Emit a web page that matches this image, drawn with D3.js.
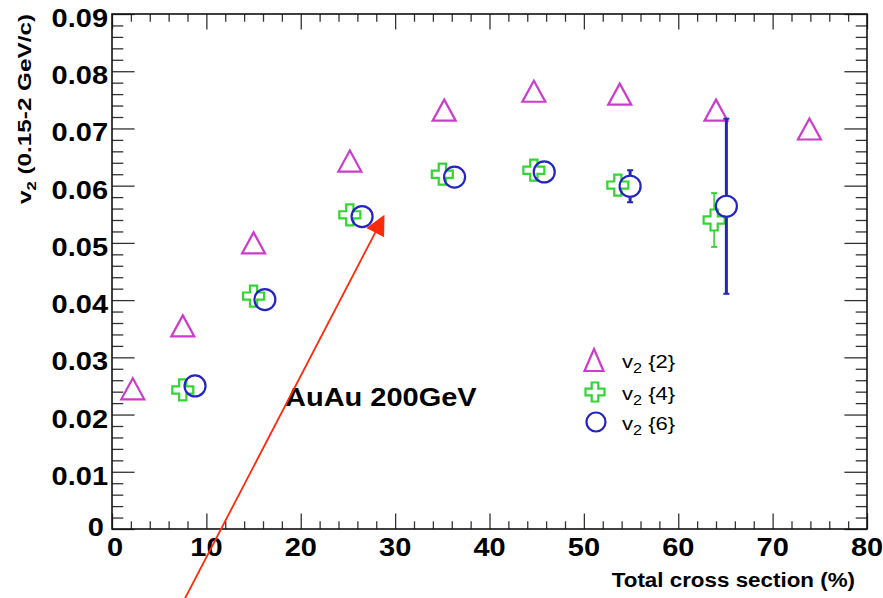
<!DOCTYPE html>
<html><head><meta charset="utf-8">
<script src="https://cdn.jsdelivr.net/npm/d3@7"></script>
<style>body{margin:0;background:#fff}svg{display:block}</style>
</head><body><svg id="c" width="883" height="598"></svg>
<script>
// ---------- data ----------
const xTicks = [0,10,20,30,40,50,60,70,80];
const xTickLabels = ["0","10","20","30","40","50","60","70","80"];
const yTicks = [0,0.01,0.02,0.03,0.04,0.05,0.06,0.07,0.08,0.09];
const yTickLabels = ["0","0.01","0.02","0.03","0.04","0.05","0.06","0.07","0.08","0.09"];

const cent2 = [2.2, 7.5, 15.0, 25.2, 35.2, 44.7, 53.8, 64.0, 73.9];
const v2_2  = [0.0245, 0.0355, 0.0500, 0.0643, 0.0732, 0.0765, 0.0760, 0.0732, 0.0699];

const cent4 = [7.5, 15.0, 25.2, 35.0, 44.7, 53.6, 63.8];
const v2_4  = [0.0243, 0.0407, 0.0549, 0.0620, 0.0627, 0.0601, 0.0540];
const err4  = [0.0003, 0.0004, 0.0004, 0.0005, 0.0005, 0.0006, 0.0047];

const cent6 = [8.8, 16.2, 26.5, 36.3, 45.8, 54.9, 65.1];
const v2_6  = [0.0250, 0.0401, 0.0546, 0.0615, 0.0624, 0.0599, 0.0564];
const err6  = [0.0004, 0.0005, 0.0005, 0.0006, 0.0007, 0.0028, 0.0153];

const legendLabels = ["{2}", "{4}", "{6}"];
const xTitle = "Total cross section (%)";
const yTitleMain = "v";
const yTitleSub = "2";
const yTitleRest = " (0.15-2 GeV/c)";
const annotation = "AuAu 200GeV";
const annotationPos = [18.33, 0.0215];
const arrowFrom = [7.3, -0.0135];
const arrowTo = [28.87, 0.0549];

// ---------- layout ----------
const L = 112, R = 867, T = 14, B = 529;
const SX = 1.16; // horizontal font stretch
const col2 = "#cc3ccc", col4 = "#33d433", col6 = "#2424c0", colArrow = "#ff2a08";

const svg = d3.select("#c");
const x = d3.scaleLinear().domain([0,80]).range([L,R]);
const y = d3.scaleLinear().domain([0,0.09]).range([B,T]);

const font = "'Liberation Sans', Arial, Helvetica, sans-serif";
function text(g, px, py, str, size, weight, anchor) {
  return g.append("text")
    .attr("transform", `translate(${px},${py}) scale(${SX},1)`)
    .attr("font-family", font).attr("font-size", size)
    .attr("font-weight", weight).attr("text-anchor", anchor)
    .attr("fill", "#000").text(str);
}

// ---------- ticks (ROOT style, inside on all four sides) ----------
const xMinor = d3.range(0, 81, 2).filter(v => v % 10 !== 0);
const yMinor = d3.range(0, 91, 2).filter(v => v % 10 !== 0).map(v => v/1000);
const tickStroke = g => g.call(s => s.select(".domain").remove())
   .selectAll("line").attr("stroke", "#333").attr("stroke-width", 1.3);

const xMaj = 15.5, xMin = 7.7, yMaj = 22.6, yMin = 11.3;
svg.append("g").attr("transform", `translate(0,${B})`)
  .call(d3.axisBottom(x).tickValues(xTicks).tickSize(-xMaj).tickFormat("")).call(tickStroke);
svg.append("g").attr("transform", `translate(0,${B})`)
  .call(d3.axisBottom(x).tickValues(xMinor).tickSize(-xMin).tickFormat("")).call(tickStroke);
svg.append("g").attr("transform", `translate(0,${T})`)
  .call(d3.axisTop(x).tickValues(xTicks).tickSize(-xMaj).tickFormat("")).call(tickStroke);
svg.append("g").attr("transform", `translate(0,${T})`)
  .call(d3.axisTop(x).tickValues(xMinor).tickSize(-xMin).tickFormat("")).call(tickStroke);
svg.append("g").attr("transform", `translate(${L},0)`)
  .call(d3.axisLeft(y).tickValues(yTicks).tickSize(-yMaj).tickFormat("")).call(tickStroke);
svg.append("g").attr("transform", `translate(${L},0)`)
  .call(d3.axisLeft(y).tickValues(yMinor).tickSize(-yMin).tickFormat("")).call(tickStroke);
svg.append("g").attr("transform", `translate(${R},0)`)
  .call(d3.axisRight(y).tickValues(yTicks).tickSize(-yMaj).tickFormat("")).call(tickStroke);
svg.append("g").attr("transform", `translate(${R},0)`)
  .call(d3.axisRight(y).tickValues(yMinor).tickSize(-yMin).tickFormat("")).call(tickStroke);

// frame
svg.append("rect").attr("x", L).attr("y", T).attr("width", R-L).attr("height", B-T)
  .attr("fill", "none").attr("stroke", "#111").attr("stroke-width", 1.6);

// tick labels
const lab = svg.append("g");
xTicks.forEach((v,i) => text(lab, x(v) + (v===0 ? 3 : 0), B + 27, xTickLabels[i], 25, "bold", "middle"));
yTicks.forEach((v,i) => text(lab, L - (v===0 ? 8 : 4), y(v) + (v===0 ? 7 : 13), yTickLabels[i], 25, "bold", "end"));

// axis titles
text(svg, R - 12, 587, xTitle, 19.3, "bold", "end");
const yt = svg.append("text")
  .attr("transform", `translate(31,${T}) rotate(-90)`)
  .attr("font-family", font).attr("font-size", 19).attr("font-weight", "bold")
  .attr("text-anchor", "end").attr("textLength", 190).attr("lengthAdjust", "spacingAndGlyphs");
yt.append("tspan").text(yTitleMain);
yt.append("tspan").attr("font-size", 13).attr("dy", 5).text(yTitleSub);
yt.append("tspan").attr("dy", -5).text(yTitleRest);

// annotation
text(svg, x(annotationPos[0]), y(annotationPos[1]), annotation, 25, "bold", "start");

// ---------- markers ----------
const triPath = (w,h) => `M0,${-h/2}L${w/2},${h/2}L${-w/2},${h/2}Z`;
const crossPath = (s,a) => `M${-a},${-s}L${a},${-s}L${a},${-a}L${s},${-a}L${s},${a}L${a},${a}L${a},${s}L${-a},${s}L${-a},${a}L${-s},${a}L${-s},${-a}L${-a},${-a}Z`;

function errBars(g, xs, vs, es, color, width, halfMarker) {
  xs.forEach((cx, i) => {
    const px = x(cx), py = y(vs[i]);
    const top = y(vs[i] + es[i]), bot = y(vs[i] - es[i]);
    if (py - top > halfMarker) {
      g.append("line").attr("x1", px).attr("x2", px).attr("y1", top).attr("y2", py - halfMarker)
        .attr("stroke", color).attr("stroke-width", width);
      g.append("line").attr("x1", px-3).attr("x2", px+3).attr("y1", top).attr("y2", top)
        .attr("stroke", color).attr("stroke-width", 2);
    }
    if (bot - py > halfMarker) {
      g.append("line").attr("x1", px).attr("x2", px).attr("y1", py + halfMarker).attr("y2", bot)
        .attr("stroke", color).attr("stroke-width", width);
      g.append("line").attr("x1", px-3).attr("x2", px+3).attr("y1", bot).attr("y2", bot)
        .attr("stroke", color).attr("stroke-width", 2);
    }
  });
}

const gm = svg.append("g");
// v2{2} triangles
gm.selectAll("path.t").data(cent2).join("path").attr("class","t")
  .attr("transform", (d,i) => `translate(${x(d)},${y(v2_2[i])})`)
  .attr("d", triPath(23, 21)).attr("fill","none").attr("stroke", col2).attr("stroke-width", 2.2);

// v2{4} crosses
errBars(gm, cent4, v2_4, err4, col4, 1.6, 11);
gm.selectAll("path.c").data(cent4).join("path").attr("class","c")
  .attr("transform", (d,i) => `translate(${x(d)},${y(v2_4[i])})`)
  .attr("d", crossPath(10.5, 3.6)).attr("fill","none").attr("stroke", col4).attr("stroke-width", 2.2);

// v2{6} circles
errBars(gm, cent6, v2_6, err6, col6, 3, 11);
gm.selectAll("circle.o").data(cent6).join("circle").attr("class","o")
  .attr("cx", d => x(d)).attr("cy", (d,i) => y(v2_6[i])).attr("r", 10.5)
  .attr("fill","none").attr("stroke", col6).attr("stroke-width", 2.2);

// ---------- legend ----------
const lg = svg.append("g");
const rows = [360, 392, 422];
lg.append("path").attr("transform", `translate(594,${rows[0]})`).attr("d", triPath(19, 22))
  .attr("fill","none").attr("stroke", col2).attr("stroke-width", 2.2);
lg.append("path").attr("transform", `translate(595,${rows[1]})`).attr("d", crossPath(9.5, 3.3))
  .attr("fill","none").attr("stroke", col4).attr("stroke-width", 2.2);
lg.append("circle").attr("cx", 596).attr("cy", rows[2]).attr("r", 9.5)
  .attr("fill","none").attr("stroke", col6).attr("stroke-width", 2.2);
legendLabels.forEach((s, i) => {
  const t = text(lg, 622, rows[i] + 8, "", 19, "normal", "start");
  t.append("tspan").text("v");
  t.append("tspan").attr("font-size", 14).attr("dy", 5).text("2");
  t.append("tspan").attr("dy", -5).text(" " + s);
});

// ---------- arrow annotation ----------
const ax0 = x(arrowFrom[0]), ay0 = y(arrowFrom[1]);
const ax1 = x(arrowTo[0]), ay1 = y(arrowTo[1]);
const len = Math.hypot(ax1-ax0, ay1-ay0);
const ux = (ax1-ax0)/len, uy = (ay1-ay0)/len;
const headL = 20, headW = 20;
const bx = ax1 - ux*headL, by = ay1 - uy*headL;
svg.append("line").attr("x1", ax0).attr("y1", ay0).attr("x2", bx + ux*2).attr("y2", by + uy*2)
  .attr("stroke", colArrow).attr("stroke-width", 1.8);
svg.append("path")
  .attr("d", `M${ax1},${ay1}L${bx - uy*headW/2},${by + ux*headW/2}L${bx + uy*headW/2},${by - ux*headW/2}Z`)
  .attr("fill", colArrow);
</script>
</body></html>
